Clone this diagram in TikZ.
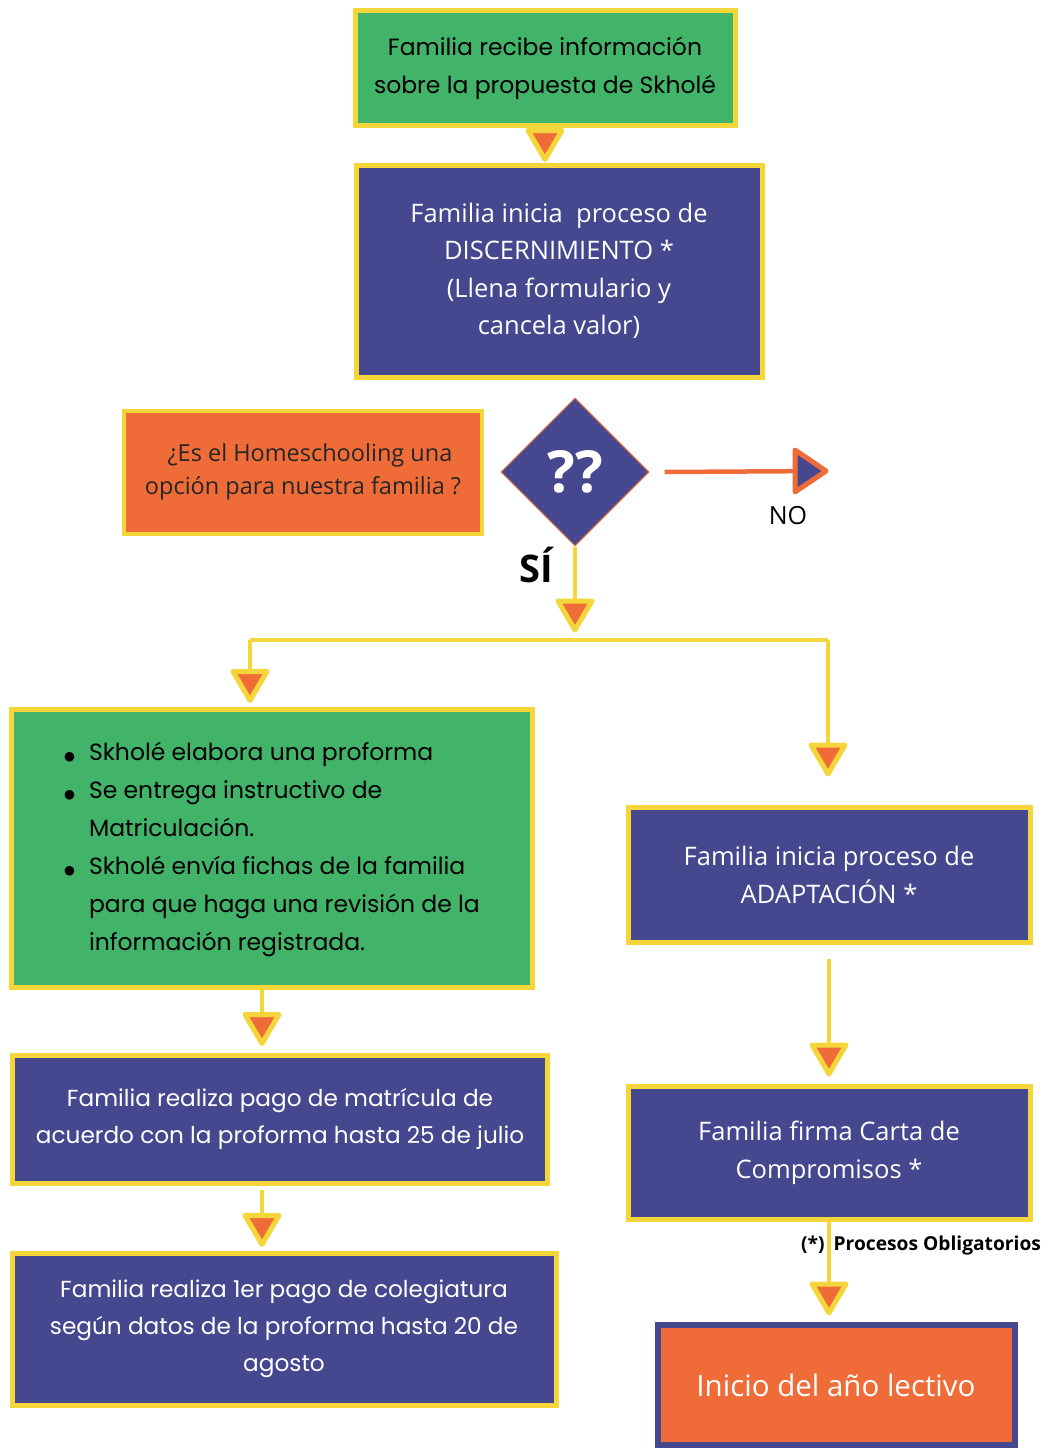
\documentclass[tikz,border=0pt]{standalone}
\usepackage{fontspec}
\setmainfont{Open Sans}
\newfontfamily\schoolfont{Poppins}
\newfontfamily\symfont{DejaVu Sans}
\usetikzlibrary{calc,shapes.geometric,positioning}

\definecolor{skgreen}{RGB}{66,180,106}
\definecolor{skblue}{RGB}{70,72,143}
\definecolor{skyellow}{RGB}{244,214,58}
\definecolor{skorange}{RGB}{239,108,56}

\newcommand{\skdot}{{\symfont\fontsize{12.5}{12.5}\selectfont ●}}

\tikzset{
  box/.style={rectangle, line width=5pt, draw=skyellow, align=center, inner sep=0pt},
  greenbox/.style={box, fill=skgreen, text=black, font=\schoolfont\fontsize{23.5}{38}\selectfont},
  bluebox/.style={box, fill=skblue, text=white, font=\fontsize{25.5}{37.5}\selectfont},
  paybox/.style={box, fill=skblue, text=white, font=\schoolfont\fontsize{23.2}{37}\selectfont},
  link/.style={draw=skyellow, line width=4.5pt},
  downtip/.pic={\path[draw=skyellow, line width=5pt, line join=round, fill=skorange]
    (0,0) -- (-17,29) -- (17,29) -- cycle;},
  righttip/.pic={\path[draw=skorange, line width=5pt, line join=round, fill=skblue]
    (0,0) -- (-31,-21) -- (-31,21) -- cycle;},
}

\begin{document}
\begin{tikzpicture}[x=1pt,y=1pt,yscale=-1,xscale=1]
\useasboundingbox (0,0) rectangle (1050,1448);

%Shape: Rectangle [info]
\node[greenbox, minimum width=380, minimum height=115] (info) at (545,68)
  {Familia recibe información\\sobre la propuesta de Skholé};
%Shape: Rectangle [discern]
\node[bluebox, minimum width=406, minimum height=212] (discern) at (559,271)
  {Familia inicia\ \ proceso de\\DISCERNIMIENTO *\\(Llena formulario y\\cancela valor)};
%Shape: Rectangle [question]
\node[box, line width=4pt, fill=skorange, text=black!85, minimum width=358, minimum height=123,
  font=\fontsize{23.5}{33}\selectfont] (question) at (303,472)
  {\hspace{14pt}¿Es el Homeschooling una\\opción para nuestra familia ?};
%Shape: Diamond [decide]
\node[diamond, aspect=1, inner sep=0pt, minimum width=148, minimum height=148, fill=skblue,
  draw=skorange, line width=1pt, text=white, font=\bfseries\fontsize{58}{60}\selectfont] (decide) at (575,472) {??};

%Shape: Rectangle [proforma]
\node[greenbox, minimum width=521, minimum height=278] (proforma) at (272,848)
  {\begin{tabular}{@{}c@{\hspace{14pt}}l@{}}
   \skdot & Skholé elabora una proforma\\
   \skdot & Se entrega instructivo de\\
          & Matriculación.\\
   \skdot & Skholé envía fichas de la familia\\
          & para que haga una revisión de la\\
          & información registrada.
   \end{tabular}};
%Shape: Rectangle [matricula]
\node[paybox, minimum width=535, minimum height=128] (matricula) at (280,1119)
  {Familia realiza pago de matrícula de\\acuerdo con la proforma hasta 25 de julio};
%Shape: Rectangle [colegiatura]
\node[paybox, minimum width=544, minimum height=152] (colegiatura) at (284,1329)
  {Familia realiza 1er pago de colegiatura\\según datos de la proforma hasta 20 de\\agosto};

%Shape: Rectangle [adapta]
\node[bluebox, minimum width=402, minimum height=135] (adapta) at (829,875)
  {Familia inicia proceso de\\ADAPTACIÓN *};
%Shape: Rectangle [compromiso]
\node[bluebox, minimum width=402, minimum height=133] (compromiso) at (829,1153)
  {Familia firma Carta de\\Compromisos *};
%Shape: Rectangle [inicio]
\node[box, draw=skblue, line width=6pt, fill=skorange, text=white, minimum width=357, minimum height=120,
  font=\fontsize{29.5}{34}\selectfont] (inicio) at (836,1385) {Inicio del año lectivo};

% Connectors
\draw[link] (info.south) -- ($(info.south |- discern.north)+(0,-3)$) pic {downtip};
\coordinate (split) at (577,630);
\draw[link] (decide.south) -- (decide.south |- split) pic {downtip};
\coordinate (jl) at (250,640);
\coordinate (jr) at (828,640);
\draw[link] (jl) -- (jr);
\draw[link] (jl) -- ($(jl |- proforma.north)+(0,-6)$) pic {downtip};
\draw[link] (jr) -- ($(jr |- adapta.north)+(0,-31)$) pic {downtip};
\draw[link] ($(proforma.south)+(-10,0)$) -- ($(proforma.south |- matricula.north)+(-10,-9)$) pic {downtip};
\draw[link] ($(matricula.south)+(-18,4)$) -- ($(matricula.south |- colegiatura.north)+(-18,-6)$) pic {downtip};
\draw[link] ($(adapta.south)+(0,14)$) -- ($(adapta.south |- compromiso.north)+(0,-10)$) pic {downtip};
\draw[link] (compromiso.south) -- ($(compromiso.south |- inicio.north)+(0,-9)$) pic {downtip};

% NO branch
\coordinate (noend) at (826,471);
\draw[draw=skorange, line width=4.5pt] ($(decide.east)+(15,0)$) -- (noend) pic {righttip};

% Text Node
\node[font=\fontsize{25}{28}\selectfont] (nolabel) at (788,516) {NO};
% Text Node
\node[font=\bfseries\fontsize{38}{40}\selectfont] (silabel) at (536,565) {SÍ};
% Text Node
\node[anchor=west, inner sep=0pt, font=\bfseries\fontsize{19.2}{21}\selectfont] (oblig) at (801,1245)
  {(*)\hspace{9pt}Procesos Obligatorios};

\end{tikzpicture}
\end{document}
